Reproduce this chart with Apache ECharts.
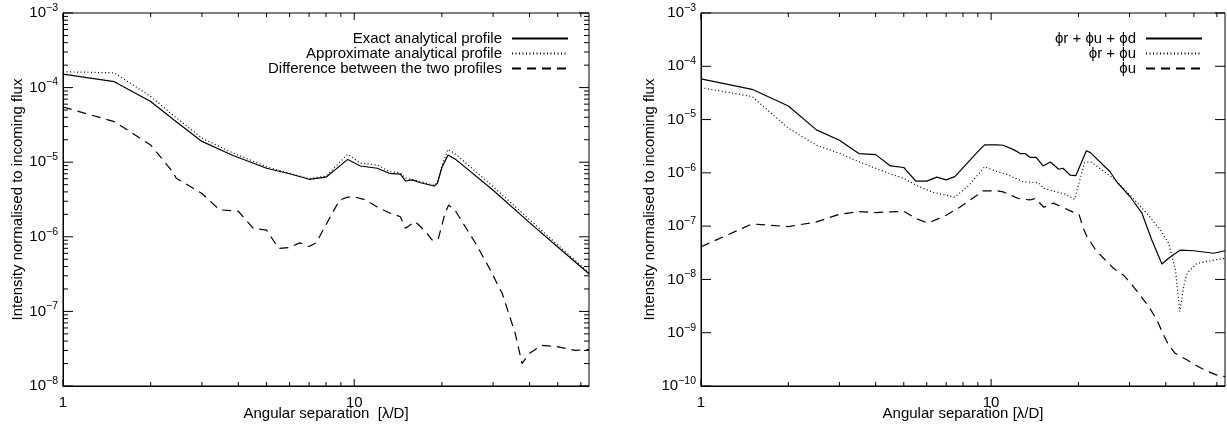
<!DOCTYPE html>
<html>
<head>
<meta charset="utf-8">
<title>Intensity profiles</title>
<script src="https://cdn.jsdelivr.net/npm/echarts@6/dist/echarts.min.js"></script>
<style>
    html, body { margin: 0; padding: 0; background: #fff; }
    #chart { width: 1227px; height: 425px; }
</style>
</head>
<body>
<div id="chart"></div>
<script>
// ---- data: [separation (lambda/D), intensity] ----

// left panel
let leftExact = [[1, 1.52e-4], [1.5, 1.2e-4], [2, 6.5e-5], [2.4, 3.7e-5], [3, 1.9e-5], [3.8, 1.25e-5],
    [5, 8.3e-6], [6, 7.0e-6], [7, 5.9e-6], [8, 6.3e-6], [9.5, 1.09e-5], [10.5, 8.9e-6], [12, 8.3e-6],
    [13.2, 7.1e-6], [14.4, 6.9e-6], [15, 5.6e-6], [15.8, 5.8e-6], [16.9, 5.3e-6], [18.8, 4.8e-6],
    [19.3, 5.2e-6], [20, 8.5e-6], [21, 1.25e-5], [22.3, 1.09e-5], [30, 4.2e-6], [40, 1.55e-6],
    [50, 7.3e-7], [64, 3.2e-7]];
let leftApprox = [[1, 1.63e-4], [1.5, 1.58e-4], [2, 7.6e-5], [2.4, 4.2e-5], [3, 2.1e-5], [3.8, 1.35e-5],
    [5, 8.7e-6], [6.5, 6.5e-6], [7, 6.0e-6], [8, 6.5e-6], [9.5, 1.28e-5], [10.5, 9.7e-6], [12, 9.2e-6],
    [13.2, 7.5e-6], [14.4, 7.2e-6], [15, 6.1e-6], [16.9, 5.5e-6], [18.8, 4.9e-6], [19.3, 5.3e-6],
    [20, 9e-6], [21, 1.49e-5], [22.3, 1.28e-5], [30, 4.7e-6], [40, 1.7e-6], [50, 7.8e-7], [64, 3.3e-7]];
let leftDiff = [[1, 5.5e-5], [1.5, 3.5e-5], [2, 1.7e-5], [2.35, 7.9e-6], [2.45, 6.1e-6], [3, 3.8e-6],
    [3.45, 2.3e-6], [4, 2.2e-6], [4.5, 1.3e-6], [5, 1.23e-6], [5.5, 7e-7], [6, 7.2e-7], [6.5, 8.3e-7],
    [7, 7.4e-7], [7.4, 8.3e-7], [8.9, 3.1e-6], [9.5, 3.4e-6], [10.1, 3.4e-6], [11, 3.1e-6], [12, 2.5e-6],
    [13.2, 2.1e-6], [14.4, 1.86e-6], [15, 1.3e-6], [16.2, 1.6e-6], [17.6, 1.17e-6], [18.5, 9.1e-7],
    [19.4, 9.1e-7], [20.5, 2.06e-6], [21.1, 2.67e-6], [22.3, 2.2e-6], [26.1, 8.2e-7], [28.9, 4e-7],
    [32.2, 1.75e-7], [35.7, 5.1e-8], [37.7, 2.0e-8], [39.8, 2.7e-8], [44, 3.5e-8], [49, 3.4e-8],
    [57.5, 3.0e-8], [64, 3.1e-8]];

// right panel
let rightAll = [[1, 5.8e-5], [1.5, 3.7e-5], [2, 1.8e-5], [2.5, 6.4e-6], [3, 4.1e-6], [3.5, 2.3e-6],
    [4, 2.2e-6], [4.5, 1.35e-6], [5, 1.26e-6], [5.5, 7e-7], [6, 7e-7], [6.5, 8.3e-7], [7, 7.4e-7],
    [7.5, 8.5e-7], [9, 2.5e-6], [9.5, 3.35e-6], [10.5, 3.35e-6], [11, 3.3e-6], [12, 2.7e-6],
    [12.6, 2.3e-6], [13.1, 2.3e-6], [13.6, 1.96e-6], [14.3, 1.96e-6], [15.1, 1.35e-6], [16, 1.6e-6],
    [17.1, 1.17e-6], [17.7, 1.22e-6], [18.7, 9.1e-7], [19.6, 8.9e-7], [21.3, 2.6e-6], [22, 2.4e-6],
    [25.7, 1.05e-6], [27.1, 6.8e-7], [30.1, 3.6e-7], [33.1, 1.75e-7], [35.8, 5.5e-8], [38.8, 1.95e-8],
    [40.9, 2.5e-8], [44.9, 3.55e-8], [50, 3.45e-8], [58.5, 3.1e-8], [64, 3.45e-8]];
let rightRU = [[1, 3.97e-5], [1.5, 2.7e-5], [2, 6.9e-6], [2.5, 3.3e-6], [3, 2.33e-6], [3.5, 1.62e-6],
    [4, 1.22e-6], [4.5, 9.5e-7], [5, 7.9e-7], [5.5, 5.9e-7], [6.3, 4.3e-7], [7.5, 3.5e-7], [8.4, 5.9e-7],
    [9.5, 1.3e-6], [10.5, 1.05e-6], [11.3, 9.4e-7], [12.9, 6.8e-7], [14.6, 6.5e-7], [15.2, 5.1e-7],
    [16.8, 4.4e-7], [18, 4.0e-7], [19.4, 3.2e-7], [21, 1.56e-6], [22, 1.62e-6], [26.4, 7.9e-7],
    [30.1, 3.85e-7], [34.4, 1.75e-7], [38.3, 8.5e-8], [40.9, 4.8e-8], [43.2, 1.5e-8], [44.7, 2.5e-9],
    [46.1, 7.3e-9], [47.3, 1.3e-8], [51.2, 2.0e-8], [58.5, 2.3e-8], [64, 2.5e-8]];
let rightU = [[1, 4.1e-8], [1.5, 1.1e-7], [2, 9.8e-8], [2.5, 1.2e-7], [3, 1.67e-7], [3.5, 1.87e-7],
    [4, 1.8e-7], [4.5, 1.85e-7], [5, 1.9e-7], [5.5, 1.4e-7], [6, 1.16e-7], [6.2, 1.2e-7], [7, 1.6e-7],
    [7.8, 2.26e-7], [9.4, 4.6e-7], [10.5, 4.6e-7], [11, 4.4e-7], [12.4, 3.3e-7], [13.6, 3.1e-7],
    [14.2, 3.3e-7], [15.2, 2.26e-7], [16.4, 2.7e-7], [18.5, 2.0e-7], [20.1, 1.65e-7], [20.8, 9e-8],
    [21.4, 6.4e-8], [22.9, 3.6e-8], [24.4, 2.5e-8], [26.4, 1.62e-8], [28.6, 1.2e-8], [30.6, 7.9e-9],
    [32.6, 5.1e-9], [34.9, 3.1e-9], [37.3, 1.74e-9], [38.8, 1.05e-9], [40.9, 5.9e-10], [43.1, 4.1e-10],
    [47.3, 3.1e-10], [51.8, 2.3e-10], [56.1, 1.86e-10], [60, 1.6e-10], [64, 1.5e-10]];

let leftNames = ['Exact analytical profile', 'Approximate analytical profile', 'Difference between the two profiles'];
let rightNames = ['\u03d5r + \u03d5u + \u03d5d', '\u03d5r + \u03d5u', '\u03d5u'];

// ticks and labels
let xLabels = [1, 10];
let xMinor = [2, 3, 4, 5, 6, 7, 8, 9, 20, 30, 40, 50, 60];
let leftDecades = [1e-8, 1e-7, 1e-6, 1e-5, 1e-4, 1e-3];
let rightDecades = [1e-10, 1e-9, 1e-8, 1e-7, 1e-6, 1e-5, 1e-4, 1e-3];

let font = '"Liberation Sans", Arial, Helvetica, sans-serif';
let black = '#000';
let xMin = 1, xMax = 64;

// 2..9 times every decade but the last
function minorOf(decades) {
    let out = [];
    for (let i = 0; i < decades.length - 1; i++) {
        for (let m = 2; m <= 9; m++) out.push(+(decades[i] * m).toPrecision(3));
    }
    return out;
}

function expLabel(v) {
    let e = Math.round(Math.log10(v));
    return '{b|10}{s|' + (e < 0 ? '\u2212' + (-e) : e) + '}';
}

function xAxisFor(grid, name) {
    return {
        type: 'log', logBase: 10, min: xMin, max: xMax, gridIndex: grid, position: 'bottom',
        name: name, nameLocation: 'middle', nameGap: 20, nameMoveOverlap: false,
        nameTextStyle: { fontSize: 15, color: black, fontFamily: font },
        splitLine: { show: false },
        axisLine: { show: true, lineStyle: { color: black, width: 1 } },
        axisTick: { show: false },
        axisLabel: { customValues: xLabels, margin: 9, fontSize: 15, color: black,
            fontFamily: font, formatter: (v) => '' + v }
    };
}

function yAxisFor(grid, min, max, decades, nameGap) {
    return {
        type: 'log', logBase: 10, min: min, max: max, gridIndex: grid, position: 'left',
        name: 'Intensity normalised to incoming flux', nameLocation: 'middle',
        nameGap: nameGap, nameRotate: 90,
        nameTextStyle: { fontSize: 15, color: black, fontFamily: font },
        splitLine: { show: false },
        axisLine: { show: true, lineStyle: { color: black, width: 1 } },
        axisTick: { show: false },
        axisLabel: { customValues: decades, margin: 5, color: black, fontFamily: font,
            formatter: expLabel,
            rich: {
                b: { fontSize: 15, fontFamily: font, color: black },
                s: { fontSize: 10.5, fontFamily: font, color: black, padding: [0, 0, 10, 0] }
            } }
    };
}

// tick table: [x, y, 0 = x tick / 1 = y tick, length]
function tickRows(yLo, decades, yMinor) {
    let rows = [];
    xLabels.forEach((v) => rows.push([v, yLo, 0, 7]));
    xMinor.forEach((v) => rows.push([v, yLo, 0, 4]));
    decades.forEach((v) => rows.push([xMin, v, 1, 10]));
    yMinor.forEach((v) => rows.push([xMin, v, 1, 5]));
    return rows;
}

// inward ticks on all four sides of the box
function drawTick(params, api) {
    let r = params.coordSys;
    let p = api.coord([api.value(0), api.value(1)]);
    let len = api.value(3);
    let st = { stroke: black, lineWidth: 1 };
    let a, b;
    if (api.value(2) === 0) {
        a = { x1: p[0], y1: r.y + r.height, x2: p[0], y2: r.y + r.height - len };
        b = { x1: p[0], y1: r.y, x2: p[0], y2: r.y + len };
    } else {
        a = { x1: r.x, y1: p[1], x2: r.x + len, y2: p[1] };
        b = { x1: r.x + r.width, y1: p[1], x2: r.x + r.width - len, y2: p[1] };
    }
    return { type: 'group', children: [
        { type: 'line', shape: a, style: st },
        { type: 'line', shape: b, style: st }
    ] };
}

function tickSeries(idx, rows) {
    return {
        type: 'custom', xAxisIndex: idx, yAxisIndex: idx, data: rows, renderItem: drawTick,
        encode: { x: 0, y: 1 }, clip: false, silent: true, z: 5
    };
}

function line(name, data, idx, type) {
    return {
        name: name, type: 'line', data: data, xAxisIndex: idx, yAxisIndex: idx,
        symbol: 'none', showSymbol: false, smooth: false, silent: true,
        lineStyle: { color: black, width: 1.2, type: type },
        itemStyle: { color: black }
    };
}

let dashed = [9, 6];
let dotted = [1, 2.5];

let legendBase = {
    orient: 'vertical', align: 'right', top: 26, itemWidth: 56, itemHeight: 10, itemGap: 0,
    selectedMode: false,
    itemStyle: { opacity: 0 },
    textStyle: { fontSize: 15, color: black, fontFamily: font, padding: [0, 5, 0, 0] }
};

let chart = echarts.init(document.getElementById('chart'), null, { renderer: 'canvas' });
chart.setOption({
    backgroundColor: '#fff',
    animation: false,
    textStyle: { fontFamily: font },
    grid: [
        { left: 63, top: 13, width: 526, height: 373, containLabel: false, outerBoundsMode: 'none',
          show: true, borderColor: black, borderWidth: 1, backgroundColor: 'transparent' },
        { left: 701, top: 13, width: 524, height: 373, containLabel: false, outerBoundsMode: 'none',
          show: true, borderColor: black, borderWidth: 1, backgroundColor: 'transparent' }
    ],
    xAxis: [
        xAxisFor(0, 'Angular separation  [\u03bb/D]'),
        xAxisFor(1, 'Angular separation [\u03bb/D]')
    ],
    yAxis: [
        yAxisFor(0, 1e-8, 1e-3, leftDecades, 36),
        yAxisFor(1, 1e-10, 1e-3, rightDecades, 44)
    ],
    legend: [
        Object.assign({}, legendBase, { data: leftNames, right: 653 }),
        Object.assign({}, legendBase, { data: rightNames, right: 19 })
    ],
    series: [
        line(leftNames[0], leftExact, 0, 'solid'),
        line(leftNames[1], leftApprox, 0, dotted),
        line(leftNames[2], leftDiff, 0, dashed),
        line(rightNames[0], rightAll, 1, 'solid'),
        line(rightNames[1], rightRU, 1, dotted),
        line(rightNames[2], rightU, 1, dashed),
        tickSeries(0, tickRows(1e-8, leftDecades, minorOf(leftDecades))),
        tickSeries(1, tickRows(1e-10, rightDecades, []))
    ]
});
</script>
</body>
</html>
